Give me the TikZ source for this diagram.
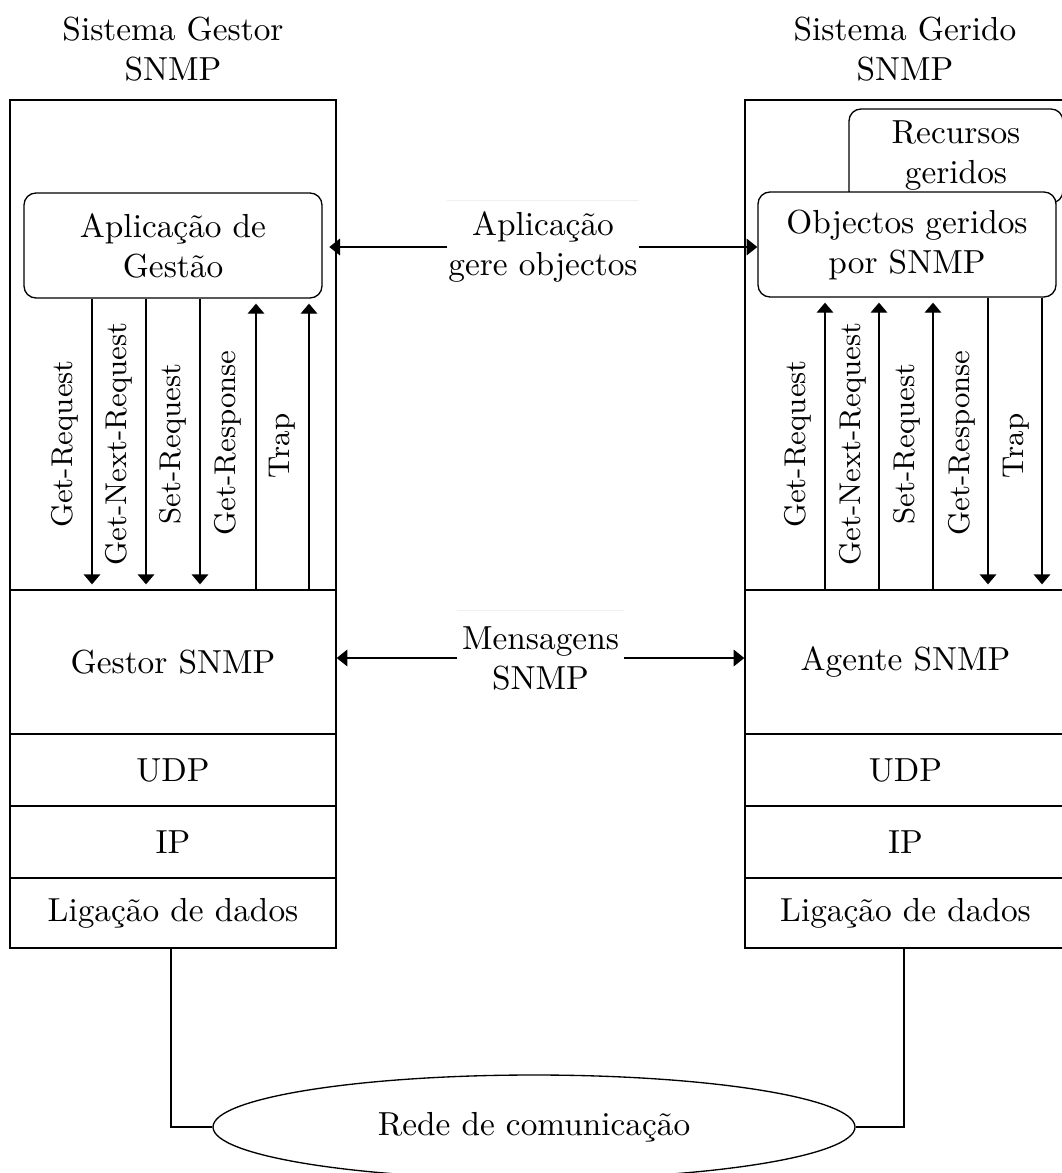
\documentclass[tikz,border=0pt]{standalone}
\usetikzlibrary{arrows.meta,shapes.geometric}
\begin{document}
\begin{tikzpicture}[x=0.3pt,y=-0.3pt,
  lcol/.style={draw, minimum width=97.8pt, inner sep=0pt, align=center},
  rcol/.style={draw, minimum width=96.3pt, inner sep=0pt, align=center},
  rbox/.style={draw, fill=white, rounded corners=3.6pt, inner sep=0pt, align=center},
  prim/.style={rotate=90, font=\small, inner sep=0pt},
  arr/.style={-{Triangle[width=5pt,length=3pt]}, shorten >=1.5pt},
  harr/.style={-{Triangle[width=5pt,length=3.2pt]}},
  midlbl/.style={align=center, inner sep=0pt},
  faint/.style={draw=gray!12}
]
\useasboundingbox (0,0) rectangle (1062,1173);

% titles
\node[align=center] (tl) at (173,49) {Sistema Gestor\\SNMP};
\node[align=center] (tr) at (905,49) {Sistema Gerido\\SNMP};

% manager stack
\node[lcol, minimum height=147pt] (lapp) at (173,345) {};
\node[lcol, minimum height=43.2pt] (gestor) at (173,662) {Gestor SNMP};
\node[lcol, minimum height=21.6pt] (ludp) at (173,770) {UDP};
\node[lcol, minimum height=21.6pt] (lip) at (173,842) {IP};
\node[lcol, minimum height=21pt] (llnk) at (173,913) {Ligação de dados};

% agent stack
\node[rcol, minimum height=147pt] (rapp) at (905.5,345) {};
\node[rcol, minimum height=43.2pt] (agente) at (905.5,662) {Agente SNMP};
\node[rcol, minimum height=21.6pt] (rudp) at (905.5,770) {UDP};
\node[rcol, minimum height=21.6pt] (rip) at (905.5,842) {IP};
\node[rcol, minimum height=21pt] (rlnk) at (905.5,913) {Ligação de dados};

% application boxes
\node[rbox, minimum width=89.4pt, minimum height=31.5pt] (lbox) at (173,245.5) {Aplicação de\\Gestão};
\node[rbox, minimum width=64.2pt, minimum height=28.2pt] (rres) at (956,156) {Recursos\\geridos};
\node[rbox, minimum width=89.4pt, minimum height=31.5pt] (robj) at (907,244.5) {Objectos geridos\\por SNMP};

% manager primitives
\foreach \x [count=\i] in {92,146,200} {
  \coordinate (ld\i) at (\x,0);
  \draw[arr] (lbox.south -| ld\i) -- (gestor.north -| ld\i);
}
\foreach \x [count=\i] in {256,309} {
  \coordinate (lu\i) at (\x,0);
  \draw[arr] (gestor.north -| lu\i) -- (lbox.south -| lu\i);
}
\node[prim] (lp1) at (65,444) {Get-Request};
\node[prim] (lp2) at (119,444) {Get-Next-Request};
\node[prim] (lp3) at (173,444) {Set-Request};
\node[prim] (lp4) at (228,443) {Get-Response};
\node[prim] (lp5) at (282,446) {Trap};

% agent primitives
\foreach \x [count=\i] in {825,879,933} {
  \coordinate (ru\i) at (\x,0);
  \draw[arr] (agente.north -| ru\i) -- (robj.south -| ru\i);
}
\foreach \x [count=\i] in {988,1042} {
  \coordinate (rd\i) at (\x,0);
  \draw[arr] (robj.south -| rd\i) -- (agente.north -| rd\i);
}
\node[prim] (rp1) at (798,444) {Get-Request};
\node[prim] (rp2) at (853,444) {Get-Next-Request};
\node[prim] (rp3) at (907,444) {Set-Request};
\node[prim] (rp4) at (962,443) {Get-Response};
\node[prim] (rp5) at (1016,446) {Trap};

% peer relations
\node[midlbl, minimum width=57pt, minimum height=27.6pt] (appl) at (543,247) {Aplicação\\gere objectos};
\draw[faint] (appl.north west) -- (appl.north east);
\draw[harr, shorten >=2pt] (appl.west) -- (appl.west -| lbox.east);
\draw[harr] (appl.east) -- (appl.east -| robj.west);

\node[midlbl, minimum width=49.5pt, minimum height=28.2pt] (msg) at (540.5,658) {Mensagens\\SNMP};
\draw[faint] (msg.north west) -- (msg.north east);
\draw[harr] (msg.west) -- (msg.west -| gestor.east);
\draw[harr] (msg.east) -- (msg.east -| agente.west);

% network
\node[draw, ellipse, minimum width=192.6pt, minimum height=31.2pt, inner sep=0pt] (net) at (534,1127) {Rede de comunicação};
\coordinate (bl) at (171,0);
\coordinate (br) at (904,0);
\draw (llnk.south -| bl) |- (net.west);
\draw (rlnk.south -| br) |- (net.east);
\end{tikzpicture}
\end{document}
